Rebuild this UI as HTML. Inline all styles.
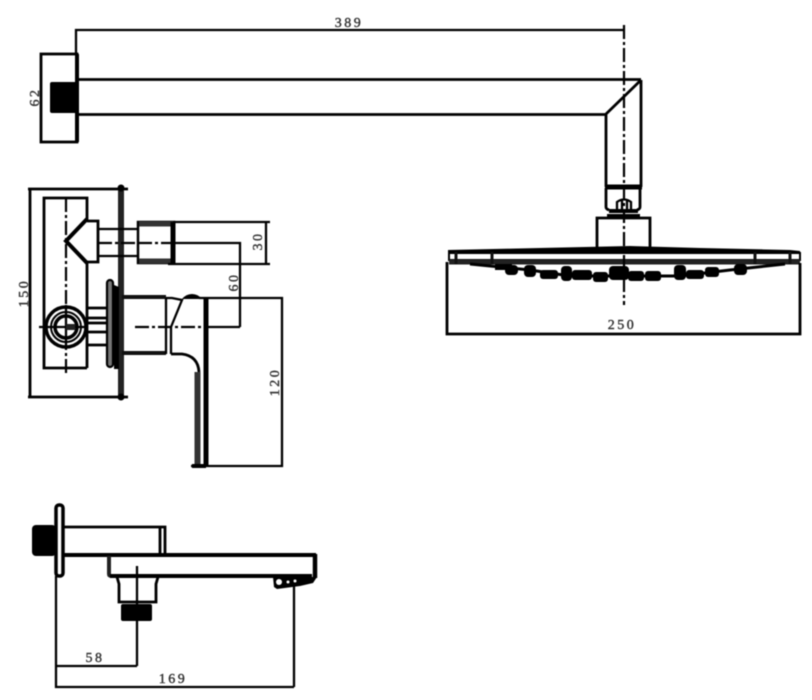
<!DOCTYPE html>
<html><head><meta charset="utf-8"><style>
html,body{margin:0;padding:0;background:#fff;width:812px;height:700px;overflow:hidden}
svg{display:block;filter:blur(.5px)}
text{font-family:"Liberation Serif",serif;font-size:14px;fill:#333;letter-spacing:2.5px;text-anchor:middle;stroke:#333;stroke-width:.4}
.l{stroke:#000;stroke-width:2.3;fill:none}
.t{stroke:#000;stroke-width:4;fill:none}
.g{stroke:#444;stroke-width:3;fill:none}
.c{stroke:#000;stroke-width:2.2;fill:none;stroke-dasharray:14 3 3 3}
.b{fill:#000;stroke:none}
</style></head><body>
<svg width="812" height="700" viewBox="0 0 812 700" xmlns="http://www.w3.org/2000/svg">
<!-- Top arm -->
<path class="l" d="M76 54V30H624"/>
<rect class="l" x="41" y="54" width="36" height="88" style="stroke-width:2.8"/>
<path class="t" d="M77 54V142"/>
<rect class="b" x="50" y="82" width="28" height="31" rx="2"/>
<path class="l" d="M78 79.5H641M78 114.5H606" style="stroke-width:2.8"/>
<path class="l" d="M641 80V187M606 114V187M641 80L606 114" style="stroke-width:2.8"/>
<path class="t" d="M605 187H642" style="stroke-width:5"/>
<path class="l" d="M606 188V207Q606 209 609 210M640 188V207Q640 209 637 210" style="stroke-width:2.8"/>
<path class="l" d="M617 209V202Q624 197 631 202V209M622 200V209M627 200V209"/>
<path class="t" d="M609 211H638M607 216H640"/>
<path class="l" d="M597 248V218H650V248" style="stroke-width:2.8"/>
<!-- Shower head -->
<path class="b" d="M448 255V250L540 248L630 246L700 248L790 250L800 251V255Z"/>
<rect x="449" y="253" width="351" height="7" fill="#fff" stroke="#000" stroke-width="2"/>
<path d="M449 262H800" stroke="#222" stroke-width="5"/>
<path d="M456 252V264M492 252V264M755 252V264M790 252V264" stroke="#111" stroke-width="3"/>
<path d="M470 264L530 270L570 276H680L730 270L785 264" stroke="#000" stroke-width="3" fill="none"/>
<g class="b">
<rect x="495" y="264" width="17" height="6"/><rect x="505" y="265" width="13" height="10" rx="4"/><rect x="524" y="265" width="12" height="12" rx="4"/>
<rect x="540" y="270" width="18" height="9" rx="3"/><rect x="561" y="266" width="11" height="15" rx="4"/>
<rect x="572" y="270" width="20" height="10" rx="3"/><rect x="593" y="272" width="15" height="10" rx="3"/>
<rect x="609" y="266" width="20" height="14" rx="4"/><rect x="628" y="271" width="16" height="10" rx="3"/>
<rect x="645" y="271" width="16" height="10" rx="3"/><rect x="674" y="265" width="12" height="15" rx="4"/>
<rect x="686" y="270" width="18" height="9" rx="3"/><rect x="705" y="267" width="14" height="10" rx="3"/>
<rect x="734" y="264" width="13" height="11" rx="4"/>
</g>
<path class="l" d="M447 262V334H800V263" style="stroke-width:2.8"/>
<path class="c" d="M624 25V305"/>
<!-- Valve left -->
<path class="l" d="M28 189H128M28 397H128M30 189V397" style="stroke-width:2.8"/>
<path d="M121 186V399" stroke="#222" stroke-width="6"/>
<circle class="b" cx="121" cy="188" r="3.5"/><circle class="b" cx="121" cy="397" r="3.5"/>
<path class="l" d="M87 368H44V198H87V221M87 262V368" style="stroke-width:2.8"/>
<path d="M87 219L66 241L87 263" fill="none" stroke="#000" stroke-width="4"/>
<path class="l" d="M87 221H98V262H87" style="stroke-width:2.8"/>
<path class="l" d="M98 229H138M98 256H138"/>
<path class="c" d="M66 198V374"/>
<path class="c" d="M98 243H175"/>
<circle cx="66" cy="327" r="20" fill="#fff" stroke="#000" stroke-width="3.5"/>
<circle cx="66" cy="327" r="15" fill="none" stroke="#000" stroke-width="2"/>
<circle cx="66" cy="327" r="11" fill="none" stroke="#000" stroke-width="3.5"/>
<path class="l" d="M66 305V349M39 327H87"/>
<rect x="66" y="324" width="9" height="6" fill="#222"/>
<path class="l" d="M87 308H106M87 318H106M87 323H106M87 332H106M87 345H106" style="stroke-width:2.8"/>
<rect x="107" y="280" width="6" height="87" rx="3" fill="#777" stroke="#000" stroke-width="2.2"/>
<path d="M114 285L119 287V369L114 369Z" fill="#000"/>
<!-- Connector & nut -->
<rect x="138" y="222" width="36" height="41" fill="#fff" stroke="#000" stroke-width="2.5"/>
<path d="M139 224H173M139 261H173" stroke="#333" stroke-width="5"/>
<path class="t" d="M173 222V264" style="stroke-width:5"/>
<path class="c" d="M138 243H172"/>
<path class="l" d="M174 222H270M168 264H270M266 222V264M175 243H240V327M240 264V298"/>
<!-- Valve body -->
<path d="M122 297H166M122 353H166" stroke="#111" stroke-width="4"/>
<path class="l" d="M166 298V354M171 327V354"/>
<path class="l" d="M166 298H172L182 300L171 327"/>
<path class="b" d="M182 299Q186 294 192 294Q198 294 202 299Z"/>
<path class="l" d="M199 298H282V466H191"/>
<path class="t" d="M206 298V466" style="stroke-width:5"/>
<path class="c" d="M135 327H206"/>
<path class="l" d="M206 327H240"/>
<path class="l" d="M171 354H182Q198 356 199 372" style="stroke-width:2.8"/>
<path d="M197.5 372V465" stroke="#333" stroke-width="6"/>
<path d="M192 466H206" stroke="#000" stroke-width="4"/>
<!-- Bottom spout -->
<rect x="56" y="505" width="7" height="71" rx="3" fill="#fff" stroke="#000" stroke-width="3.5"/>
<rect class="b" x="32" y="525" width="24" height="31" rx="4"/>
<path class="l" d="M63 527H165V555M160 528V555" style="stroke-width:2.8"/>
<path class="t" d="M62 555H316"/>
<path d="M109 556V574Q109 576 112 576" fill="none" stroke="#222" stroke-width="4"/>
<path class="t" d="M110 576H312" style="stroke-width:4"/>
<path class="t" d="M315 554V578" style="stroke-width:4.5"/>
<path class="b" d="M273 577H317L313 583L300 586L277 589L274 587Z"/>
<circle cx="279" cy="582" r="3" fill="#fff"/><circle cx="288" cy="582" r="1.5" fill="#fff"/><circle cx="295" cy="581" r="1.5" fill="#fff"/>
<path class="l" d="M117 577L119 584V602H156V584L158 577" style="stroke-width:2.8"/>
<rect class="b" x="121" y="604" width="31" height="17" rx="2"/>
<path class="l" d="M137 566V666"/>
<path class="l" d="M56 576V687H294M56 666H137M294 585V687"/>
<!-- Labels -->
<text x="349" y="27">389</text>
<text x="622" y="329">250</text>
<text x="95" y="662">58</text>
<text x="173" y="683">169</text>
<text transform="translate(39 97) rotate(-90)">62</text>
<text transform="translate(28 293) rotate(-90)">150</text>
<text transform="translate(262 241) rotate(-90)">30</text>
<text transform="translate(238 282) rotate(-90)">60</text>
<text transform="translate(279 382) rotate(-90)">120</text>
</svg>
</body></html>
